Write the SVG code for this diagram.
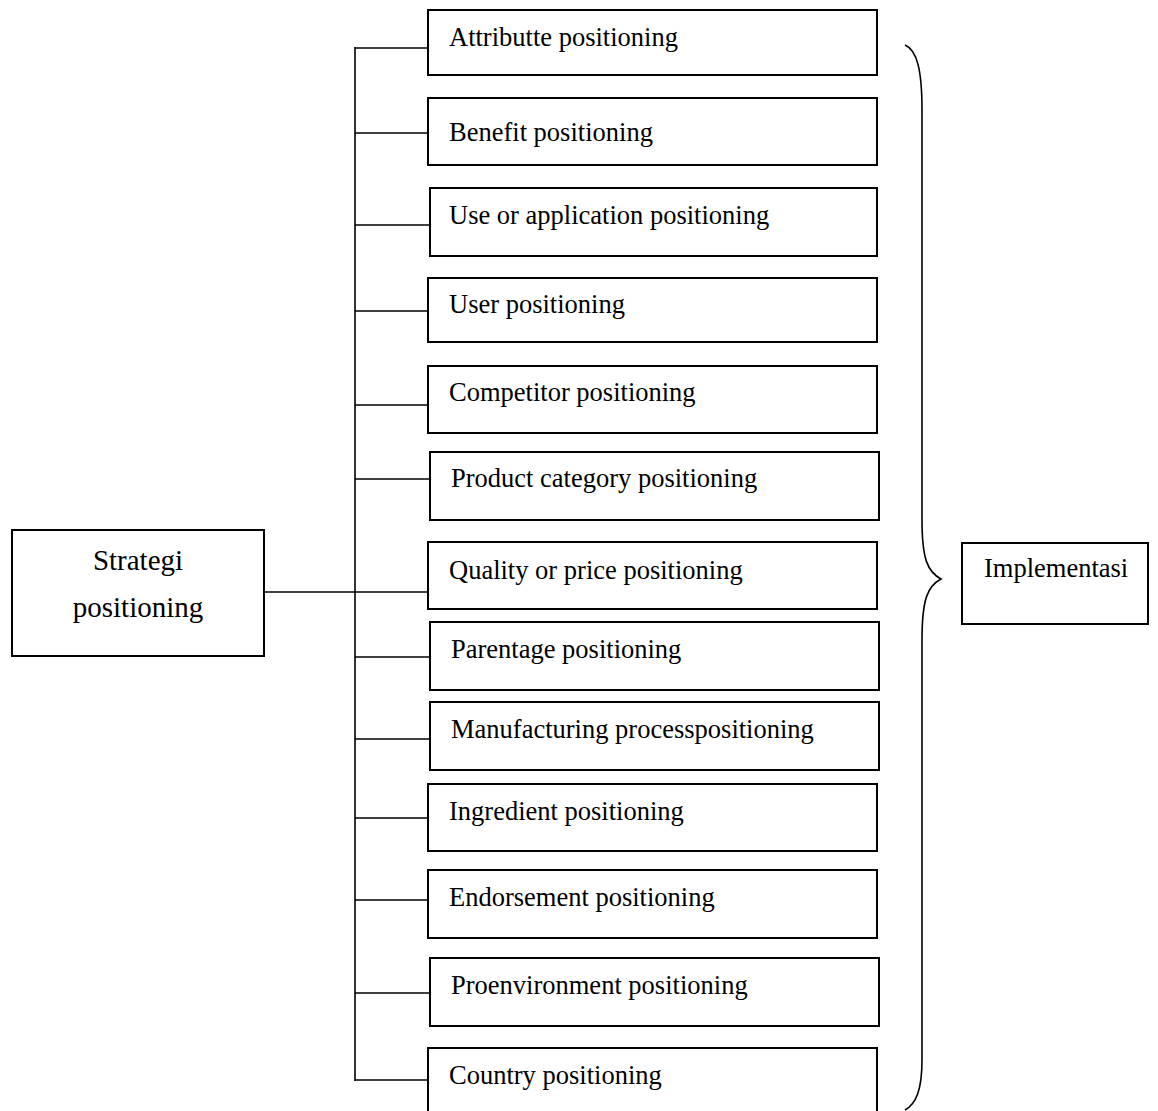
<svg xmlns="http://www.w3.org/2000/svg" width="1158" height="1111" viewBox="0 0 1158 1111">
<style>
.box{fill:#fff;stroke:#000;stroke-width:2}
.t{font-family:"Liberation Serif","Times New Roman",serif;font-size:26.5px;fill:#000}
.s{font-size:29px}
.c{fill:none;stroke:#000;stroke-width:1.6}
</style>
<rect width="1158" height="1111" fill="#fff"/>
<g id="connectors">
<line class="c" x1="355" y1="47" x2="355" y2="1081"/>
<line class="c" x1="264" y1="592" x2="430" y2="592"/>
<line class="c" x1="355" y1="48" x2="428" y2="48"/>
<line class="c" x1="355" y1="133" x2="428" y2="133"/>
<line class="c" x1="355" y1="225" x2="430" y2="225"/>
<line class="c" x1="355" y1="311" x2="428" y2="311"/>
<line class="c" x1="355" y1="405" x2="430" y2="405"/>
<line class="c" x1="355" y1="479" x2="430" y2="479"/>
<line class="c" x1="355" y1="657" x2="430" y2="657"/>
<line class="c" x1="355" y1="739" x2="430" y2="739"/>
<line class="c" x1="355" y1="818" x2="428" y2="818"/>
<line class="c" x1="355" y1="900" x2="430" y2="900"/>
<line class="c" x1="355" y1="993" x2="430" y2="993"/>
<line class="c" x1="355" y1="1080" x2="428" y2="1080"/>
<path class="c" d="M905,45 C917,50 922,70 922,110 L922,520 C922,560 928,572 941,579 C928,586 922,598 922,640 L922,1060 C922,1090 916,1104 905,1110"/>
</g>
<g id="strategi"><rect class="box" x="12" y="530" width="252" height="126"/><text class="t s" x="138" y="570" text-anchor="middle">Strategi</text><text class="t s" x="138" y="617" text-anchor="middle">positioning</text></g>
<g id="n1"><rect class="box" x="428" y="10" width="449" height="65"/><text class="t" x="449" y="46">Attributte positioning</text></g>
<g id="n2"><rect class="box" x="428" y="98" width="449" height="67"/><text class="t" x="449" y="141">Benefit positioning</text></g>
<g id="n3"><rect class="box" x="430" y="188" width="447" height="68"/><text class="t" x="449" y="224">Use or application positioning</text></g>
<g id="n4"><rect class="box" x="428" y="278" width="449" height="64"/><text class="t" x="449" y="313">User positioning</text></g>
<g id="n5"><rect class="box" x="428" y="366" width="449" height="67"/><text class="t" x="449" y="401">Competitor positioning</text></g>
<g id="n6"><rect class="box" x="430" y="452" width="449" height="68"/><text class="t" x="451" y="487">Product category positioning</text></g>
<g id="n7"><rect class="box" x="428" y="542" width="449" height="67"/><text class="t" x="449" y="579">Quality or price positioning</text></g>
<g id="n8"><rect class="box" x="430" y="622" width="449" height="68"/><text class="t" x="451" y="658">Parentage positioning</text></g>
<g id="n9"><rect class="box" x="430" y="702" width="449" height="68"/><text class="t" x="451" y="738">Manufacturing processpositioning</text></g>
<g id="n10"><rect class="box" x="428" y="784" width="449" height="67"/><text class="t" x="449" y="820">Ingredient positioning</text></g>
<g id="n11"><rect class="box" x="428" y="870" width="449" height="68"/><text class="t" x="449" y="906">Endorsement positioning</text></g>
<g id="n12"><rect class="box" x="430" y="958" width="449" height="68"/><text class="t" x="451" y="994">Proenvironment positioning</text></g>
<g id="n13"><rect class="box" x="428" y="1048" width="449" height="70"/><text class="t" x="449" y="1084">Country positioning</text></g>
<g id="implementasi"><rect class="box" x="962" y="543" width="186" height="81"/><text class="t" x="984" y="577">Implementasi</text></g>
</svg>
